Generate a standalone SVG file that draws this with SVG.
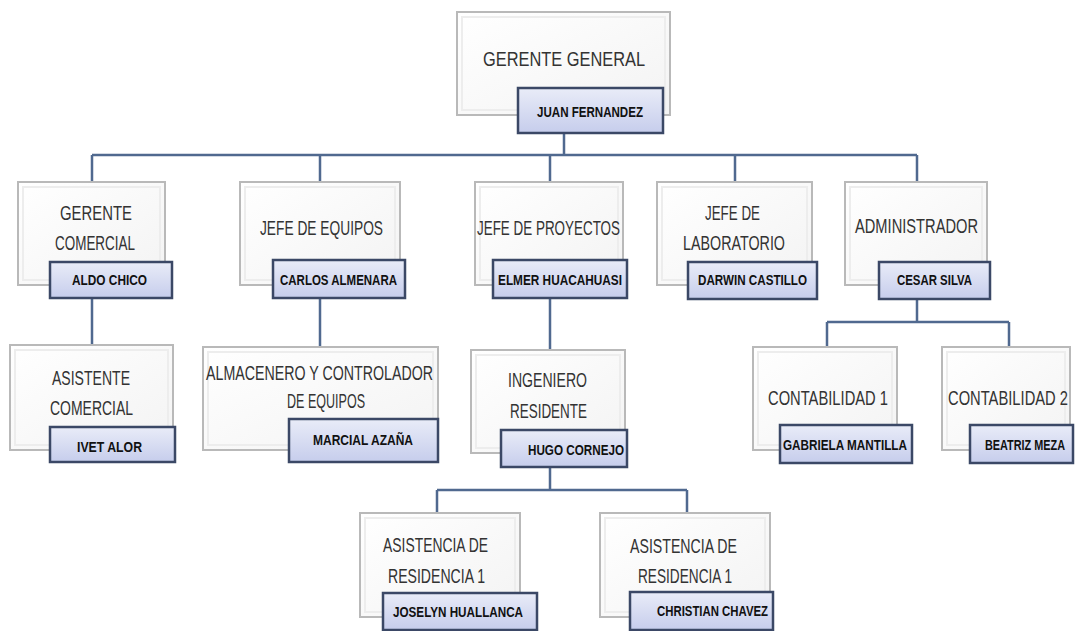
<svg xmlns="http://www.w3.org/2000/svg" width="1075" height="631" viewBox="0 0 1075 631">
<defs>
<linearGradient id="ng" x1="0" y1="0" x2="0" y2="1">
<stop offset="0" stop-color="#e9ecf8"/>
<stop offset="1" stop-color="#c6cdec"/>
</linearGradient>
<linearGradient id="bg" x1="0" y1="0" x2="1" y2="1">
<stop offset="0" stop-color="#ffffff"/>
<stop offset="1" stop-color="#f3f3f3"/>
</linearGradient>
</defs>
<style>
.box{fill:url(#bg);stroke:#b9b9b9;stroke-width:2}
.inner{fill:none;stroke:#ededed;stroke-width:2}
.name{fill:url(#ng);stroke:#3b4866;stroke-width:2.5}
.t{font-family:"Liberation Sans Narrow","Liberation Sans",Arial,sans-serif;fill:#333333;font-size:21px}
.n{font-family:"Liberation Sans Narrow","Liberation Sans",Arial,sans-serif;fill:#111111;font-size:15px;font-weight:bold}
.c{fill:none;stroke:#50698f;stroke-width:2.5}
</style>
<rect width="1075" height="631" fill="#ffffff"/>
<g id="connectors">
<path class="c" d="M564 133V155M92 155H917M92 155V182M320 155V182M550 155V182M735 155V182M917 155V182"/>
<path class="c" d="M92 298V345M320 298V347M550 298V350"/>
<path class="c" d="M917 299V322M827 322H1009M827 322V347M1009 322V347"/>
<path class="c" d="M550 467V490M437 490H687M437 490V513M687 490V513"/>
</g>
<g id="gerente-general">
<rect class="box" x="457" y="12" width="213" height="103"/>
<rect class="inner" x="462" y="17" width="203" height="93"/>
<text class="t" x="483" y="66" font-size="28" textLength="162" lengthAdjust="spacingAndGlyphs">GERENTE GENERAL</text>
<rect class="name" x="518" y="88" width="145" height="45"/>
<text class="n" x="537" y="117" textLength="106" lengthAdjust="spacingAndGlyphs">JUAN FERNANDEZ</text>
</g>
<g id="gerente-comercial">
<rect class="box" x="18" y="182" width="147" height="103"/>
<rect class="inner" x="23" y="187" width="137" height="93"/>
<text class="t" x="60" y="220" textLength="72" lengthAdjust="spacingAndGlyphs">GERENTE</text>
<text class="t" x="55" y="250" textLength="80" lengthAdjust="spacingAndGlyphs">COMERCIAL</text>
<rect class="name" x="50" y="262" width="122" height="36"/>
<text class="n" x="72" y="285" textLength="75" lengthAdjust="spacingAndGlyphs">ALDO CHICO</text>
</g>
<g id="jefe-equipos">
<rect class="box" x="240" y="182" width="160" height="103"/>
<rect class="inner" x="245" y="187" width="150" height="93"/>
<text class="t" x="260" y="235" textLength="123" lengthAdjust="spacingAndGlyphs">JEFE DE EQUIPOS</text>
<rect class="name" x="273" y="260" width="132" height="38"/>
<text class="n" x="280" y="285" textLength="117" lengthAdjust="spacingAndGlyphs">CARLOS ALMENARA</text>
</g>
<g id="jefe-proyectos">
<rect class="box" x="475" y="182" width="148" height="103"/>
<rect class="inner" x="480" y="187" width="138" height="93"/>
<text class="t" x="477" y="235" textLength="143" lengthAdjust="spacingAndGlyphs">JEFE DE PROYECTOS</text>
<rect class="name" x="493" y="260" width="134" height="38"/>
<text class="n" x="498" y="285" textLength="124" lengthAdjust="spacingAndGlyphs">ELMER HUACAHUASI</text>
</g>
<g id="jefe-laboratorio">
<rect class="box" x="657" y="182" width="155" height="103"/>
<rect class="inner" x="662" y="187" width="145" height="93"/>
<text class="t" x="705" y="220" textLength="55" lengthAdjust="spacingAndGlyphs">JEFE DE</text>
<text class="t" x="683" y="250" textLength="102" lengthAdjust="spacingAndGlyphs">LABORATORIO</text>
<rect class="name" x="688" y="262" width="129" height="37"/>
<text class="n" x="698" y="285" textLength="109" lengthAdjust="spacingAndGlyphs">DARWIN CASTILLO</text>
</g>
<g id="administrador">
<rect class="box" x="845" y="182" width="142" height="103"/>
<rect class="inner" x="850" y="187" width="132" height="93"/>
<text class="t" x="855" y="233" textLength="123" lengthAdjust="spacingAndGlyphs">ADMINISTRADOR</text>
<rect class="name" x="879" y="262" width="111" height="37"/>
<text class="n" x="897" y="285" textLength="75" lengthAdjust="spacingAndGlyphs">CESAR SILVA</text>
</g>
<g id="asistente-comercial">
<rect class="box" x="10" y="345" width="163" height="105"/>
<rect class="inner" x="15" y="350" width="153" height="95"/>
<text class="t" x="52" y="385" textLength="78" lengthAdjust="spacingAndGlyphs">ASISTENTE</text>
<text class="t" x="50" y="415" textLength="83" lengthAdjust="spacingAndGlyphs">COMERCIAL</text>
<rect class="name" x="50" y="427" width="125" height="35"/>
<text class="n" x="77" y="452" textLength="65" lengthAdjust="spacingAndGlyphs">IVET ALOR</text>
</g>
<g id="almacenero">
<rect class="box" x="203" y="347" width="235" height="103"/>
<rect class="inner" x="208" y="352" width="225" height="93"/>
<text class="t" x="206" y="380" textLength="227" lengthAdjust="spacingAndGlyphs">ALMACENERO Y CONTROLADOR</text>
<text class="t" x="287" y="408" textLength="78" lengthAdjust="spacingAndGlyphs">DE EQUIPOS</text>
<rect class="name" x="289" y="419" width="149" height="43"/>
<text class="n" x="313" y="445" textLength="100" lengthAdjust="spacingAndGlyphs">MARCIAL AZAÑA</text>
</g>
<g id="ingeniero-residente">
<rect class="box" x="471" y="350" width="154" height="103"/>
<rect class="inner" x="476" y="355" width="144" height="93"/>
<text class="t" x="508" y="387" textLength="79" lengthAdjust="spacingAndGlyphs">INGENIERO</text>
<text class="t" x="510" y="418" textLength="77" lengthAdjust="spacingAndGlyphs">RESIDENTE</text>
<rect class="name" x="501" y="430" width="126" height="37"/>
<text class="n" x="528" y="455" textLength="96" lengthAdjust="spacingAndGlyphs">HUGO CORNEJO</text>
</g>
<g id="contabilidad-1">
<rect class="box" x="753" y="347" width="144" height="103"/>
<rect class="inner" x="758" y="352" width="134" height="93"/>
<text class="t" x="768" y="405" textLength="120" lengthAdjust="spacingAndGlyphs">CONTABILIDAD 1</text>
<rect class="name" x="780" y="425" width="132" height="38"/>
<text class="n" x="783" y="450" textLength="124" lengthAdjust="spacingAndGlyphs">GABRIELA MANTILLA</text>
</g>
<g id="contabilidad-2">
<rect class="box" x="942" y="347" width="128" height="103"/>
<rect class="inner" x="947" y="352" width="118" height="93"/>
<text class="t" x="948" y="405" textLength="120" lengthAdjust="spacingAndGlyphs">CONTABILIDAD 2</text>
<rect class="name" x="970" y="425" width="103" height="38"/>
<text class="n" x="985" y="450" textLength="80" lengthAdjust="spacingAndGlyphs">BEATRIZ MEZA</text>
</g>
<g id="asistencia-1">
<rect class="box" x="360" y="513" width="160" height="104"/>
<rect class="inner" x="365" y="518" width="150" height="94"/>
<text class="t" x="383" y="552" textLength="105" lengthAdjust="spacingAndGlyphs">ASISTENCIA DE</text>
<text class="t" x="388" y="583" textLength="97" lengthAdjust="spacingAndGlyphs">RESIDENCIA 1</text>
<rect class="name" x="383" y="593" width="154" height="37"/>
<text class="n" x="393" y="617" textLength="130" lengthAdjust="spacingAndGlyphs">JOSELYN HUALLANCA</text>
</g>
<g id="asistencia-2">
<rect class="box" x="600" y="513" width="170" height="104"/>
<rect class="inner" x="605" y="518" width="160" height="94"/>
<text class="t" x="630" y="553" textLength="107" lengthAdjust="spacingAndGlyphs">ASISTENCIA DE</text>
<text class="t" x="638" y="583" textLength="94" lengthAdjust="spacingAndGlyphs">RESIDENCIA 1</text>
<rect class="name" x="630" y="592" width="143" height="38"/>
<text class="n" x="657" y="616" textLength="111" lengthAdjust="spacingAndGlyphs">CHRISTIAN CHAVEZ</text>
</g>
</svg>
